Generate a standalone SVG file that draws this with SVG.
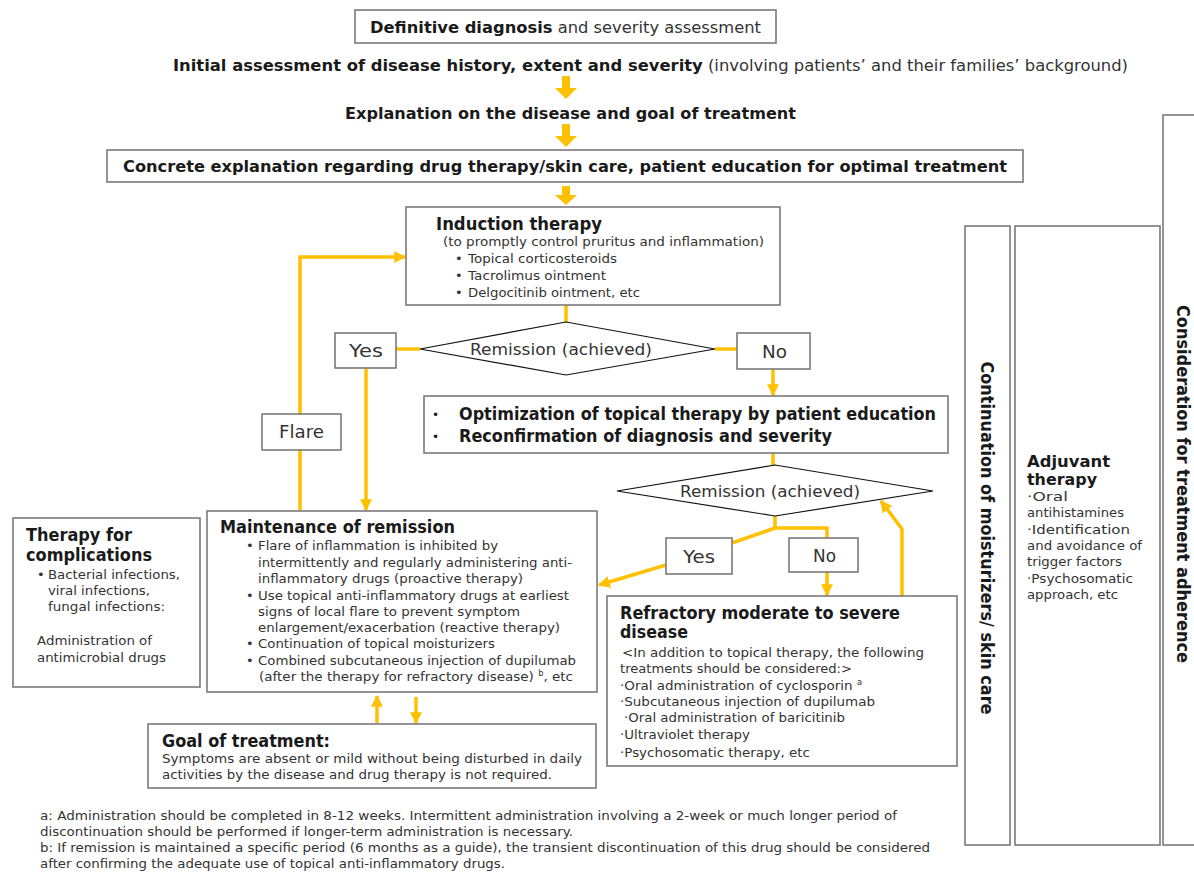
<svg xmlns="http://www.w3.org/2000/svg" width="1194" height="872" viewBox="0 0 1194 872">
<style>
.box{fill:#fff;stroke:#7a7a7a;stroke-width:1.6}
.dia{fill:#fff;stroke:#111;stroke-width:1.2}
.t{font-family:"DejaVu Sans","Liberation Sans",sans-serif;fill:#1a1a1a}
.b{font-weight:bold}
.s13{font-size:13px}
.s12{font-size:12px}
.s16{font-size:16px}
.s17{font-size:17px}
.body{fill:#333}
.ln{fill:none;stroke:#FFC000;stroke-width:3.5}
.blk{fill:#FFC000}
</style>
<defs>
<marker id="ah" viewBox="0 0 10 10" refX="9" refY="5" markerWidth="12" markerHeight="12" markerUnits="userSpaceOnUse" orient="auto">
<path d="M0,0 L10,5 L0,10 z" fill="#FFC000"/>
</marker>
</defs>
<rect width="1194" height="872" fill="#fff"/>

<g id="connectors">
<path class="blk" d="M562,76 h8 v12 h7 l-11,11 l-11,-11 h7 z"/>
<path class="blk" d="M562,124 h8 v12 h7 l-11,11 l-11,-11 h7 z"/>
<path class="blk" d="M562,186 h8 v9 h7 l-11,10 l-11,-10 h7 z"/>
<path class="ln" d="M566,305 V322"/>
<path class="ln" d="M420,349 H396"/>
<path class="ln" d="M715,349 H737"/>
<path class="ln" d="M366,368 V510" marker-end="url(#ah)"/>
<path class="ln" d="M773,369 V395" marker-end="url(#ah)"/>
<path class="ln" d="M773,453 V465"/>
<path class="ln" d="M775,516 V528 H827 V538"/>
<path class="ln" d="M775,528 L732,543"/>
<path class="ln" d="M666,565 L599,585" marker-end="url(#ah)"/>
<path class="ln" d="M827,572 V595" marker-end="url(#ah)"/>
<path class="ln" d="M902,596 V529 L881,501" marker-end="url(#ah)"/>
<path class="ln" d="M300,511 V257 H405" marker-end="url(#ah)"/>
<path class="ln" d="M377,723 V696" marker-end="url(#ah)"/>
<path class="ln" d="M416,697 V723" marker-end="url(#ah)"/>
</g>

<g id="definitive">
<rect class="box" x="355" y="10" width="421" height="33"/>
<text class="t s16" x="370" y="33" textLength="391" lengthAdjust="spacingAndGlyphs"><tspan class="b">Definitive diagnosis</tspan><tspan class="body"> and severity assessment</tspan></text>
</g>

<g id="initial">
<text class="t s16" x="173" y="71" textLength="955" lengthAdjust="spacingAndGlyphs"><tspan class="b">Initial assessment of disease history, extent and severity</tspan><tspan class="body"> (involving patients’ and their families’ background)</tspan></text>
</g>

<g id="explanation">
<text class="t s16 b" x="345" y="119" textLength="451" lengthAdjust="spacingAndGlyphs">Explanation on the disease and goal of treatment</text>
</g>

<g id="concrete">
<rect class="box" x="107" y="150" width="916" height="32"/>
<text class="t s16 b" x="123" y="172" textLength="884" lengthAdjust="spacingAndGlyphs">Concrete explanation regarding drug therapy/skin care, patient education for optimal treatment</text>
</g>

<g id="induction">
<rect class="box" x="406" y="207" width="374" height="98"/>
<text class="t s17 b" x="436" y="230" textLength="166" lengthAdjust="spacingAndGlyphs">Induction therapy</text>
<text class="t s13 body" x="443" y="246" textLength="321" lengthAdjust="spacingAndGlyphs">(to promptly control pruritus and inflammation)</text>
<text class="t s13 body" x="455" y="263">•</text>
<text class="t s13 body" x="468" y="263" textLength="149" lengthAdjust="spacingAndGlyphs">Topical corticosteroids</text>
<text class="t s13 body" x="455" y="280">•</text>
<text class="t s13 body" x="468" y="280" textLength="138" lengthAdjust="spacingAndGlyphs">Tacrolimus ointment</text>
<text class="t s13 body" x="455" y="297">•</text>
<text class="t s13 body" x="468" y="297" textLength="172" lengthAdjust="spacingAndGlyphs">Delgocitinib ointment, etc</text>
</g>

<g id="remission1">
<polygon class="dia" points="420,349 566,322 715,349 566,375"/>
<text class="t s16 body" x="470" y="355" textLength="182" lengthAdjust="spacingAndGlyphs">Remission (achieved)</text>
</g>

<g id="yes1">
<rect class="box" x="335" y="333" width="61" height="35"/>
<text class="t s17 body" x="349" y="357" textLength="34" lengthAdjust="spacingAndGlyphs">Yes</text>
</g>

<g id="no1">
<rect class="box" x="737" y="333" width="73" height="36"/>
<text class="t s17 body" x="762" y="358" textLength="25" lengthAdjust="spacingAndGlyphs">No</text>
</g>

<g id="flare">
<rect class="box" x="262" y="414" width="79" height="36"/>
<text class="t s17 body" x="279" y="438" textLength="45" lengthAdjust="spacingAndGlyphs">Flare</text>
</g>

<g id="optimization">
<rect class="box" x="424" y="396" width="524" height="57"/>
<text class="t s12" x="432" y="419">•</text>
<text class="t s17 b" x="459" y="420" textLength="477" lengthAdjust="spacingAndGlyphs">Optimization of topical therapy by patient education</text>
<text class="t s12" x="432" y="441">•</text>
<text class="t s17 b" x="459" y="442" textLength="373" lengthAdjust="spacingAndGlyphs">Reconfirmation of diagnosis and severity</text>
</g>

<g id="remission2">
<polygon class="dia" points="617,491 775,465 933,491 775,516"/>
<text class="t s16 body" x="680" y="497" textLength="180" lengthAdjust="spacingAndGlyphs">Remission (achieved)</text>
</g>

<g id="yes2">
<rect class="box" x="666" y="538" width="66" height="36"/>
<text class="t s17 body" x="683" y="563" textLength="32" lengthAdjust="spacingAndGlyphs">Yes</text>
</g>

<g id="no2">
<rect class="box" x="789" y="538" width="69" height="34"/>
<text class="t s17 body" x="813" y="562" textLength="23" lengthAdjust="spacingAndGlyphs">No</text>
</g>

<g id="refractory">
<rect class="box" x="607" y="596" width="350" height="170"/>
<text class="t b" font-size="18" x="620" y="619" textLength="280" lengthAdjust="spacingAndGlyphs">Refractory moderate to severe</text>
<text class="t b" font-size="18" x="620" y="638" textLength="68" lengthAdjust="spacingAndGlyphs">disease</text>
<text class="t s13 body" x="622" y="657" textLength="302" lengthAdjust="spacingAndGlyphs">&lt;In addition to topical therapy, the following</text>
<text class="t s13 body" x="620" y="673" textLength="232" lengthAdjust="spacingAndGlyphs">treatments should be considered:&gt;</text>
<text class="t s13 body" x="620" y="690" textLength="242" lengthAdjust="spacingAndGlyphs">·Oral administration of cyclosporin <tspan font-size="8" dy="-5">a</tspan></text>
<text class="t s13 body" x="620" y="706" textLength="255" lengthAdjust="spacingAndGlyphs">·Subcutaneous injection of dupilumab</text>
<text class="t s13 body" x="624" y="722" textLength="221" lengthAdjust="spacingAndGlyphs">·Oral administration of baricitinib</text>
<text class="t s13 body" x="620" y="739" textLength="130" lengthAdjust="spacingAndGlyphs">·Ultraviolet therapy</text>
<text class="t s13 body" x="620" y="757" textLength="190" lengthAdjust="spacingAndGlyphs">·Psychosomatic therapy, etc</text>
</g>

<g id="complications">
<rect class="box" x="13" y="518" width="187" height="169"/>
<text class="t s17 b" x="26" y="541" textLength="106" lengthAdjust="spacingAndGlyphs">Therapy for</text>
<text class="t s17 b" x="26" y="561" textLength="126" lengthAdjust="spacingAndGlyphs">complications</text>
<text class="t s13 body" x="37" y="579">•</text>
<text class="t s13 body" x="48" y="579" textLength="132" lengthAdjust="spacingAndGlyphs">Bacterial infections,</text>
<text class="t s13 body" x="48" y="595" textLength="102" lengthAdjust="spacingAndGlyphs">viral infections,</text>
<text class="t s13 body" x="48" y="611" textLength="117" lengthAdjust="spacingAndGlyphs">fungal infections:</text>
<text class="t s13 body" x="37" y="645" textLength="115" lengthAdjust="spacingAndGlyphs">Administration of</text>
<text class="t s13 body" x="37" y="662" textLength="129" lengthAdjust="spacingAndGlyphs">antimicrobial drugs</text>
</g>

<g id="maintenance">
<rect class="box" x="207" y="511" width="390" height="181"/>
<text class="t s17 b" x="220" y="533" textLength="235" lengthAdjust="spacingAndGlyphs">Maintenance of remission</text>
<text class="t s13 body" x="246" y="550">•</text>
<text class="t s13 body" x="258" y="550" textLength="240" lengthAdjust="spacingAndGlyphs">Flare of inflammation is inhibited by</text>
<text class="t s13 body" x="258" y="567" textLength="314" lengthAdjust="spacingAndGlyphs">intermittently and regularly administering anti-</text>
<text class="t s13 body" x="258" y="583" textLength="265" lengthAdjust="spacingAndGlyphs">inflammatory drugs (proactive therapy)</text>
<text class="t s13 body" x="246" y="600">•</text>
<text class="t s13 body" x="258" y="600" textLength="311" lengthAdjust="spacingAndGlyphs">Use topical anti-inflammatory drugs at earliest</text>
<text class="t s13 body" x="258" y="616" textLength="262" lengthAdjust="spacingAndGlyphs">signs of local flare to prevent symptom</text>
<text class="t s13 body" x="258" y="632" textLength="302" lengthAdjust="spacingAndGlyphs">enlargement/exacerbation (reactive therapy)</text>
<text class="t s13 body" x="246" y="648">•</text>
<text class="t s13 body" x="258" y="648" textLength="237" lengthAdjust="spacingAndGlyphs">Continuation of topical moisturizers</text>
<text class="t s13 body" x="246" y="665">•</text>
<text class="t s13 body" x="258" y="665" textLength="318" lengthAdjust="spacingAndGlyphs">Combined subcutaneous injection of dupilumab</text>
<text class="t s13 body" x="259" y="681" textLength="314" lengthAdjust="spacingAndGlyphs">(after the therapy for refractory disease) <tspan font-size="8" dy="-5">b</tspan><tspan dy="5">, etc</tspan></text>
</g>

<g id="goal">
<rect class="box" x="148" y="724" width="448" height="64"/>
<text class="t s17 b" x="162" y="747" textLength="168" lengthAdjust="spacingAndGlyphs">Goal of treatment:</text>
<text class="t s13 body" x="162" y="763" textLength="420" lengthAdjust="spacingAndGlyphs">Symptoms are absent or mild without being disturbed in daily</text>
<text class="t s13 body" x="162" y="779" textLength="390" lengthAdjust="spacingAndGlyphs">activities by the disease and drug therapy is not required.</text>
</g>

<g id="continuation">
<rect class="box" x="965" y="226" width="45" height="619"/>
<text class="t s17 b" transform="translate(981,538) rotate(90)" text-anchor="middle" textLength="353" lengthAdjust="spacingAndGlyphs">Continuation of moisturizers/ skin care</text>
</g>

<g id="adjuvant">
<rect class="box" x="1015" y="226" width="145" height="619"/>
<text class="t s16 b" x="1027" y="467" textLength="83" lengthAdjust="spacingAndGlyphs">Adjuvant</text>
<text class="t s16 b" x="1027" y="485" textLength="70" lengthAdjust="spacingAndGlyphs">therapy</text>
<text class="t s12 body" x="1027" y="501" textLength="41" lengthAdjust="spacingAndGlyphs">·Oral</text>
<text class="t s12 body" x="1027" y="517" textLength="97" lengthAdjust="spacingAndGlyphs">antihistamines</text>
<text class="t s12 body" x="1027" y="534" textLength="103" lengthAdjust="spacingAndGlyphs">·Identification</text>
<text class="t s12 body" x="1027" y="550" textLength="115" lengthAdjust="spacingAndGlyphs">and avoidance of</text>
<text class="t s12 body" x="1027" y="566" textLength="95" lengthAdjust="spacingAndGlyphs">trigger factors</text>
<text class="t s12 body" x="1027" y="583" textLength="106" lengthAdjust="spacingAndGlyphs">·Psychosomatic</text>
<text class="t s12 body" x="1027" y="599" textLength="91" lengthAdjust="spacingAndGlyphs">approach, etc</text>
</g>

<g id="consideration">
<rect class="box" x="1163" y="115" width="40" height="730"/>
<text class="t s17 b" transform="translate(1177,484) rotate(90)" text-anchor="middle" textLength="358" lengthAdjust="spacingAndGlyphs">Consideration for treatment adherence</text>
</g>

<g id="footnotes">
<text class="t s13 body" x="40" y="820" textLength="857" lengthAdjust="spacingAndGlyphs">a: Administration should be completed in 8-12 weeks. Intermittent administration involving a 2-week or much longer period of</text>
<text class="t s13 body" x="40" y="836" textLength="533" lengthAdjust="spacingAndGlyphs">discontinuation should be performed if longer-term administration is necessary.</text>
<text class="t s13 body" x="40" y="852" textLength="890" lengthAdjust="spacingAndGlyphs">b: If remission is maintained a specific period (6 months as a guide), the transient discontinuation of this drug should be considered</text>
<text class="t s13 body" x="40" y="868" textLength="465" lengthAdjust="spacingAndGlyphs">after confirming the adequate use of topical anti-inflammatory drugs.</text>
</g>
</svg>
